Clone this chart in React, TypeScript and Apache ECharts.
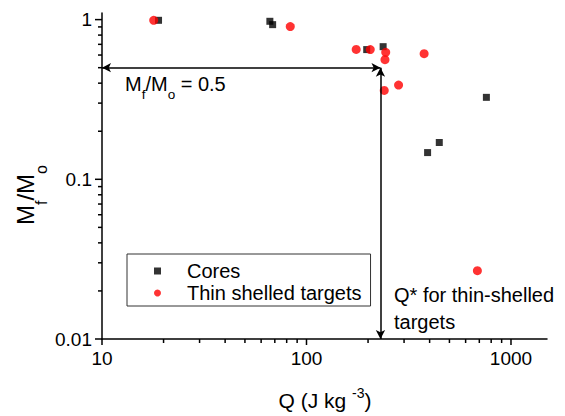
import React, { useEffect, useRef } from "react";
import * as echarts from "echarts";

// ---- data ----
const coresQ = [18.9, 66.2, 68.3, 197, 237, 391, 446, 758];
const coresM = [0.99, 0.976, 0.93, 0.649, 0.677, 0.147, 0.17, 0.326];
const thinQ = [17.9, 83.3, 175, 205, 244, 242, 376, 282, 240, 685];
const thinM = [0.99, 0.904, 0.651, 0.649, 0.624, 0.561, 0.612, 0.389, 0.36, 0.0268];

const xMajorTicks = [10, 100, 1000];
const xMinorTicks = [20, 30, 40, 50, 60, 70, 80, 90, 200, 300, 400, 500, 600, 700, 800, 900];
const yMajorTicks = [0.01, 0.1, 1];
const yMinorTicks = [0.02, 0.03, 0.04, 0.05, 0.06, 0.07, 0.08, 0.09, 0.2, 0.3, 0.4, 0.5, 0.6, 0.7, 0.8, 0.9];

const xMin = 10;
const xMax = 1500;
const yMin = 0.01;
const yMax = 1.1;

const qStar = 230; // Q* for thin-shelled targets
const halfMass = 0.5; // Mf/Mo = 0.5

const FONT = "'Liberation Sans', Arial, sans-serif";

const fmtLog = (v: number) => {
  const l = Math.log10(v);
  if (Math.abs(l - Math.round(l)) > 1e-6) return "";
  return String(Number(v.toPrecision(3)));
};

export default function App() {
  const ref = useRef<HTMLDivElement>(null);

  useEffect(() => {
    if (!ref.current) return;
    const chart = echarts.init(ref.current, undefined, { renderer: "svg" });

    const xTickData = [
      ...xMajorTicks.map((v) => [v, yMin, 6]),
      ...xMinorTicks.map((v) => [v, yMin, 4]),
    ];
    const yTickData = [
      ...yMajorTicks.map((v) => [xMin, v, 7]),
      ...yMinorTicks.map((v) => [xMin, v, 4]),
    ];

    chart.setOption({
      animation: false,
      backgroundColor: "#ffffff",
      grid: { left: 102, right: 18, top: 13, bottom: 77, containLabel: false },
      xAxis: {
        type: "log",
        logBase: 10,
        min: xMin,
        max: xMax,
        axisLine: { onZero: false, lineStyle: { color: "#000", width: 1.5 } },
        axisTick: { show: false },
        splitLine: { show: false },
        minorTick: { show: false },
        axisLabel: {
          formatter: fmtLog,
          color: "#000",
          fontSize: 19,
          fontFamily: FONT,
          margin: 10,
        },
      },
      yAxis: {
        type: "log",
        logBase: 10,
        min: yMin,
        max: yMax,
        axisLine: { onZero: false, lineStyle: { color: "#000", width: 1.5 } },
        axisTick: { show: false },
        splitLine: { show: false },
        minorTick: { show: false },
        axisLabel: {
          formatter: fmtLog,
          color: "#000",
          fontSize: 19,
          fontFamily: FONT,
          margin: 10,
        },
      },
      legend: {
        orient: "vertical",
        left: 127,
        top: 254,
        padding: [7, 9, 3, 27],
        itemWidth: 7,
        itemHeight: 7,
        itemGap: 2,
        borderColor: "#333",
        borderWidth: 1,
        borderRadius: 0,
        textStyle: {
          fontSize: 20,
          fontFamily: FONT,
          color: "#000",
          lineHeight: 20,
          padding: [0, 0, 0, 21],
        },
        data: [
          { name: "Cores", icon: "rect" },
          { name: "Thin shelled targets", icon: "circle" },
        ],
      },
      series: [
        {
          name: "Cores",
          type: "scatter",
          symbol: "rect",
          symbolSize: 7,
          itemStyle: { color: "#000000" },
          data: coresQ.map((q, i) => [q, coresM[i]]),
          z: 3,
          markLine: {
            silent: true,
            symbol: ["arrow", "arrow"],
            symbolSize: [7, 9],
            lineStyle: { color: "#000", width: 1.5, type: "solid" },
            label: { show: false },
            emphasis: { disabled: true },
            data: [
              [{ coord: [xMin, halfMass] }, { coord: [qStar, halfMass] }],
              [{ coord: [qStar, halfMass] }, { coord: [qStar, yMin] }],
            ],
          },
        },
        {
          name: "Thin shelled targets",
          type: "scatter",
          symbol: "circle",
          symbolSize: 9,
          itemStyle: { color: "#ff0000" },
          data: thinQ.map((q, i) => [q, thinM[i]]),
          z: 3,
        },
        {
          name: "xticks",
          type: "custom",
          coordinateSystem: "cartesian2d",
          silent: true,
          clip: false,
          data: xTickData,
          renderItem: (params: any, api: any) => {
            const p = api.coord([api.value(0), api.value(1)]);
            const len = api.value(2);
            return {
              type: "line",
              shape: { x1: p[0], y1: p[1], x2: p[0], y2: p[1] + len },
              style: { stroke: "#000", lineWidth: 1.5 },
            };
          },
        },
        {
          name: "yticks",
          type: "custom",
          coordinateSystem: "cartesian2d",
          silent: true,
          clip: false,
          data: yTickData,
          renderItem: (params: any, api: any) => {
            const p = api.coord([api.value(0), api.value(1)]);
            const len = api.value(2);
            return {
              type: "line",
              shape: { x1: p[0] - len, y1: p[1], x2: p[0], y2: p[1] },
              style: { stroke: "#000", lineWidth: 1.5 },
            };
          },
        },
      ],
      graphic: [
        {
          type: "text",
          x: 125,
          y: 84,
          silent: true,
          style: {
            text: "{m|M}{s|f}{m|/M}{s|o}{m| = 0.5}",
            verticalAlign: "middle",
            align: "left",
            fill: "#000",
            rich: {
              m: { fontSize: 20, fontFamily: FONT, fill: "#000" },
              s: { fontSize: 13.5, fontFamily: FONT, fill: "#000", padding: [21, 0, 0, 0] },
            },
          },
        },
        {
          type: "text",
          x: 394,
          y: 282,
          silent: true,
          style: {
            text: "Q* for thin-shelled\ntargets",
            fontSize: 20,
            fontFamily: FONT,
            lineHeight: 26.5,
            fill: "#000",
            align: "left",
            verticalAlign: "top",
          },
        },
        {
          type: "text",
          x: 325,
          y: 400,
          silent: true,
          style: {
            text: "{n|Q (J kg }{p|-3}{n|)}",
            align: "center",
            verticalAlign: "middle",
            fill: "#000",
            rich: {
              n: { fontSize: 21, fontFamily: FONT, fill: "#000" },
              p: { fontSize: 14, fontFamily: FONT, fill: "#000", padding: [0, 0, 15, 0] },
            },
          },
        },
        {
          type: "text",
          x: 25.5,
          y: 195,
          rotation: Math.PI / 2,
          silent: true,
          style: {
            text: "{m|M}{s|f}{m|/M}{s|o}",
            align: "center",
            verticalAlign: "middle",
            fill: "#000",
            rich: {
              m: { fontSize: 24, fontFamily: FONT, fill: "#000" },
              s: { fontSize: 16, fontFamily: FONT, fill: "#000", padding: [32, 0, 0, 0] },
            },
          },
        },
      ],
    });

    return () => chart.dispose();
  }, []);

  return (
    <div
      ref={ref}
      style={{ position: "fixed", left: 0, top: 0, width: 565, height: 416 }}
    />
  );
}
